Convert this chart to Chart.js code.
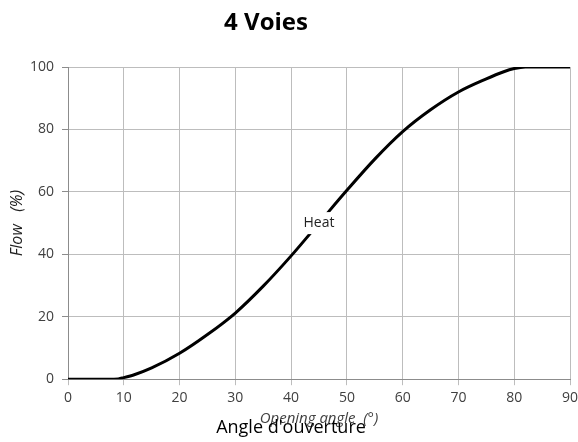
<!DOCTYPE html>
<html>
<head>
<meta charset="utf-8">
<script src="https://cdn.jsdelivr.net/npm/chart.js@4/dist/chart.umd.min.js"></script>
<style>
    body { margin: 0; background: #fff; }
    #box { width: 578px; height: 442px; position: relative; }
</style>
</head>
<body>
<div id="box"><canvas id="grafico"></canvas></div>
<script>
// valores
var angulos = [0, 5, 9, 10, 12, 15, 20, 25, 30, 35, 40, 45, 50, 55, 60, 65, 70, 75, 78, 80, 82, 85, 90];
var fluxo = [0, 0, 0.1, 0.5, 1.5, 3.6, 8.3, 14.3, 21.2, 29.8, 39.5, 50, 60.5, 70.5, 79.3, 86.3, 92, 96.2, 98.4, 99.5, 100, 100, 100];
var ticksX = [0, 10, 20, 30, 40, 50, 60, 70, 80, 90];
var ticksY = [0, 20, 40, 60, 80, 100];
var rotulo = { texto: 'Heat', x: 45, y: 50 };

var pontos = [];
for (var i = 0; i < angulos.length; i++) {
    pontos.push({ x: angulos[i], y: fluxo[i] });
}

// textos extras: título, rótulo da curva e legenda francesa
var textosExtras = {
    id: 'textosExtras',
    afterDatasetsDraw: function (chart) {
        var ctx = chart.ctx;
        var px = chart.scales.x.getPixelForValue(rotulo.x);
        var py = chart.scales.y.getPixelForValue(rotulo.y);
        ctx.save();
        ctx.font = '14px "Open Sans", sans-serif';
        var w = ctx.measureText(rotulo.texto).width;
        ctx.fillStyle = '#fff';
        ctx.fillRect(px - w / 2 - 3, py - 11, w + 6, 22);
        ctx.fillStyle = '#222';
        ctx.textAlign = 'center';
        ctx.textBaseline = 'middle';
        ctx.fillText(rotulo.texto, px, py);
        ctx.restore();
    },
    afterDraw: function (chart) {
        var ctx = chart.ctx;
        ctx.save();
        ctx.fillStyle = '#000';
        ctx.textAlign = 'center';
        ctx.textBaseline = 'middle';
        ctx.font = 'bold 24px "Open Sans", sans-serif';
        ctx.fillText('4 Voies', 266, 23);
        ctx.font = '18px "Open Sans", sans-serif';
        ctx.fillText("Angle d'ouverture", 291, 428);
        ctx.restore();
    }
};

function criarGrafico() {
    var ctx = document.getElementById('grafico').getContext('2d');

    new Chart(ctx, {
        type: 'line',
        data: {
            datasets: [{
                label: 'Heat',
                data: pontos,
                borderColor: '#000',
                borderWidth: 3,
                pointRadius: 0,
                cubicInterpolationMode: 'monotone',
                fill: false
            }]
        },
        options: {
            responsive: true,
            maintainAspectRatio: false,
            animation: false,
            layout: {
                padding: { top: 67, right: 8, bottom: 14, left: 0 }
            },
            plugins: {
                legend: { display: false },
                tooltip: { enabled: false }
            },
            scales: {
                x: {
                    type: 'linear',
                    min: 0,
                    max: 90,
                    afterBuildTicks: function (axis) {
                        axis.ticks = ticksX.map(function (v) { return { value: v }; });
                    },
                    afterFit: function (axis) {
                        axis.paddingRight = 0;
                        axis.paddingLeft = 0;
                    },
                    ticks: {
                        color: '#404040',
                        font: { size: 14, family: '"Open Sans", sans-serif' },
                        padding: 4,
                        maxRotation: 0
                    },
                    grid: {
                        color: '#bdbdbd',
                        tickColor: '#bdbdbd',
                        tickLength: 6
                    },
                    border: { color: '#8c8c8c' },
                    title: {
                        display: true,
                        text: 'Opening angle  (°)',
                        color: '#404040',
                        font: { size: 15, style: 'italic', family: '"Open Sans", sans-serif' },
                        padding: { top: 0, bottom: 0 }
                    }
                },
                y: {
                    min: 0,
                    max: 100,
                    afterBuildTicks: function (axis) {
                        axis.ticks = ticksY.map(function (v) { return { value: v }; });
                    },
                    afterFit: function (axis) {
                        axis.width = 68;
                    },
                    ticks: {
                        color: '#404040',
                        font: { size: 14, family: '"Open Sans", sans-serif' },
                        padding: 8
                    },
                    grid: {
                        color: '#bdbdbd',
                        tickColor: '#8c8c8c',
                        tickLength: 6
                    },
                    border: { color: '#8c8c8c' },
                    title: {
                        display: true,
                        text: 'Flow   (%)',
                        color: '#222',
                        font: { size: 16, style: 'italic', family: '"Open Sans", sans-serif' },
                        padding: { top: 8, bottom: 6 }
                    }
                }
            }
        },
        plugins: [textosExtras]
    });
}

criarGrafico();
</script>
</body>
</html>
